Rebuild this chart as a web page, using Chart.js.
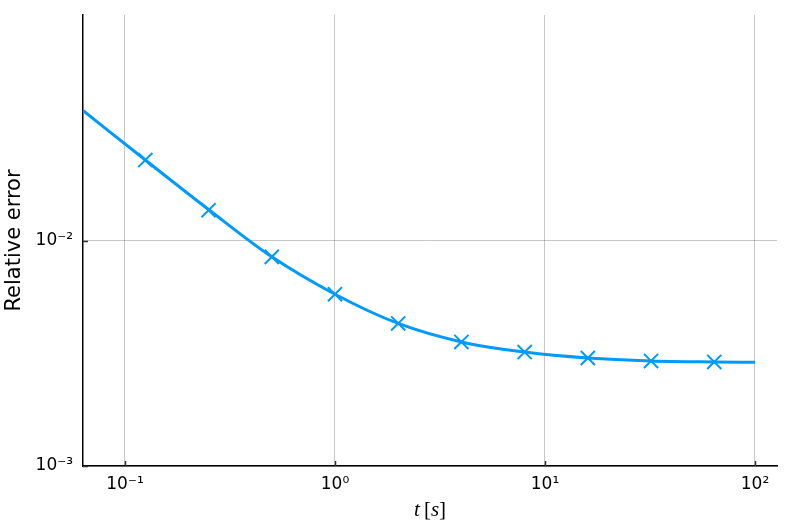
<!DOCTYPE html>
<html>
<head>
<meta charset="utf-8">
<script src="https://cdn.jsdelivr.net/npm/chart.js@4/dist/chart.umd.min.js"></script>
<style>
  html, body { margin: 0; padding: 0; background: #fff; }
  #chart { display: block; }
</style>
</head>
<body>
<canvas id="chart" width="793" height="529"></canvas>
<script>
/* relative error vs time, log-log. values */

// solid curve
const lineT   = [0.0631, 0.125, 0.25, 0.5, 1, 2, 4, 8, 16, 32, 64, 100];
const lineErr = [0.0380, 0.0229, 0.0138, 0.0085, 0.0058, 0.0043, 0.00356, 0.00321, 0.00302, 0.00293, 0.00290, 0.00289];

// x markers
const markT   = [0.125, 0.25, 0.5, 1, 2, 4, 8, 16, 32, 64];
const markErr = [0.0229, 0.0137, 0.0085, 0.0058, 0.0043, 0.00356, 0.00321, 0.00302, 0.00293, 0.00290];

// ticks
const xTicks = [0.1, 1, 10, 100];
const xTickLabels = ["10\u207B\u00B9", "10\u2070", "10\u00B9", "10\u00B2"];
const yTicks = [0.001, 0.01];
const yTickLabels = ["10\u207B\u00B3", "10\u207B\u00B2"];

const BLUE = "#009AFA";
const GRID = "rgba(0,0,0,0.22)";
const TICK_FONT = { family: "'DejaVu Sans', sans-serif", size: 17 };

const pairs = (xs, ys) => xs.map((x, i) => ({ x, y: ys[i] }));

/* short inward tick marks on the two axes (Plots.jl style) */
const innerTicks = {
  id: "innerTicks",
  beforeDatasetsDraw(chart) {
    const { ctx, chartArea: a, scales: { x, y } } = chart;
    ctx.save();
    ctx.strokeStyle = "#333";
    ctx.lineWidth = 1.5;
    ctx.beginPath();
    xTicks.forEach((v) => {
      const px = Math.round(x.getPixelForValue(v)) + 0.5;
      ctx.moveTo(px, a.bottom);
      ctx.lineTo(px, a.bottom - 5);
    });
    yTicks.forEach((v) => {
      const py = Math.round(y.getPixelForValue(v)) + 0.5;
      ctx.moveTo(a.left, py);
      ctx.lineTo(a.left + 5, py);
    });
    ctx.stroke();
    ctx.restore();
  },
};

/* x axis title "t [s]" with math-italic letters */
const xTitle = {
  id: "xTitle",
  afterDraw(chart) {
    const { ctx, chartArea: a } = chart;
    const parts = [
      ["italic", "t"], ["normal", "\u2009["], ["italic", "s"], ["normal", "]"],
    ];
    const size = 21;
    ctx.save();
    ctx.fillStyle = "#000";
    ctx.textBaseline = "alphabetic";
    let w = 0;
    parts.forEach(([st, s]) => {
      ctx.font = `${st} ${size}px 'Liberation Serif', 'DejaVu Serif', serif`;
      w += ctx.measureText(s).width;
    });
    let cx = (a.left + a.right) / 2 - w / 2;
    parts.forEach(([st, s]) => {
      ctx.font = `${st} ${size}px 'Liberation Serif', 'DejaVu Serif', serif`;
      ctx.fillText(s, cx, 516);
      cx += ctx.measureText(s).width;
    });
    ctx.restore();
  },
};

new Chart(document.getElementById("chart"), {
  type: "line",
  data: {
    datasets: [
      {
        data: pairs(lineT, lineErr),
        borderColor: BLUE,
        borderWidth: 3,
        pointRadius: 0,
        cubicInterpolationMode: "monotone",
        fill: false,
      },
      {
        data: pairs(markT, markErr),
        showLine: false,
        pointStyle: "crossRot",
        pointRadius: 10,
        pointBorderWidth: 2,
        pointBorderColor: BLUE,
        borderColor: BLUE,
      },
    ],
  },
  options: {
    responsive: false,
    animation: false,
    layout: { padding: { top: 15, right: 16, left: 0, bottom: 0 } },
    plugins: { legend: { display: false }, tooltip: { enabled: false } },
    scales: {
      x: {
        type: "logarithmic",
        position: "bottom",
        min: 0.0631,
        max: 127.3,
        afterBuildTicks: (s) => { s.ticks = xTicks.map((v) => ({ value: v })); },
        afterFit: (s) => { s.height = 63; s.paddingLeft = 0; s.paddingRight = 0; },
        grid: { color: GRID, lineWidth: 1, drawTicks: false },
        border: { display: true, color: "#000", width: 1.5 },
        ticks: {
          callback: (v, i) => xTickLabels[i],
          font: TICK_FONT,
          color: "#000",
          padding: 8,
          maxRotation: 0,
          autoSkip: false,
        },
      },
      y: {
        type: "logarithmic",
        position: "left",
        min: 0.001,
        max: 0.101,
        afterBuildTicks: (s) => { s.ticks = yTicks.map((v) => ({ value: v })); },
        afterFit: (s) => { s.width = 83; s.paddingTop = 0; s.paddingBottom = 0; },
        grid: { color: GRID, lineWidth: 1, drawTicks: false },
        border: { display: true, color: "#000", width: 1.5 },
        ticks: {
          callback: (v, i) => yTickLabels[i],
          font: TICK_FONT,
          color: "#000",
          padding: 10,
          autoSkip: false,
        },
        title: {
          display: true,
          text: "Relative error",
          color: "#000",
          font: { family: "'DejaVu Sans', sans-serif", size: 21 },
          padding: { top: 2, bottom: 0 },
        },
      },
    },
  },
  plugins: [innerTicks, xTitle],
});
</script>
</body>
</html>
